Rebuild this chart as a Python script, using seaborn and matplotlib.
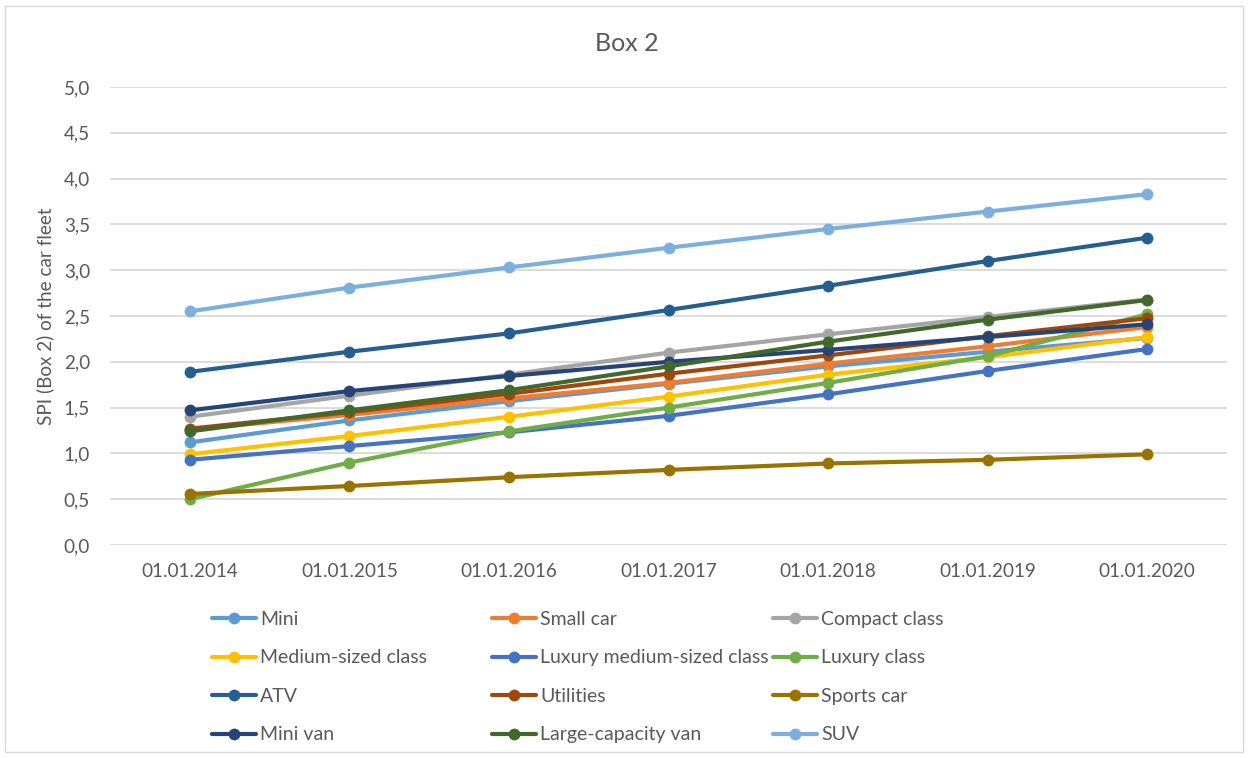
import matplotlib
matplotlib.use("Agg")
import matplotlib.pyplot as plt
from matplotlib.lines import Line2D
from matplotlib.patches import Rectangle
from matplotlib.ticker import FuncFormatter, MultipleLocator
import seaborn as sns
import pandas as pd

# Reference dates (x categories)
dates = ["01.01.2014", "01.01.2015", "01.01.2016", "01.01.2017",
         "01.01.2018", "01.01.2019", "01.01.2020"]

# SPI (Box 2) per vehicle segment
mini = [1.12, 1.36, 1.57, 1.76, 1.95, 2.11, 2.26]
small_car = [1.26, 1.42, 1.60, 1.77, 1.98, 2.17, 2.38]
compact_class = [1.40, 1.63, 1.86, 2.10, 2.30, 2.49, 2.68]
medium_sized_class = [0.99, 1.19, 1.40, 1.62, 1.86, 2.05, 2.27]
luxury_medium_sized_class = [0.93, 1.08, 1.23, 1.41, 1.645, 1.90, 2.14]
luxury_class = [0.50, 0.90, 1.24, 1.50, 1.77, 2.06, 2.52]
atv = [1.89, 2.11, 2.31, 2.565, 2.83, 3.10, 3.355]
utilities = [1.27, 1.45, 1.65, 1.87, 2.07, 2.28, 2.475]
sports_car = [0.557, 0.644, 0.74, 0.82, 0.89, 0.93, 0.99]
mini_van = [1.47, 1.68, 1.845, 2.00, 2.13, 2.27, 2.41]
large_capacity_van = [1.24, 1.47, 1.69, 1.95, 2.22, 2.46, 2.675]
suv = [2.55, 2.81, 3.03, 3.245, 3.45, 3.64, 3.83]

segments = ["Mini", "Small car", "Compact class", "Medium-sized class",
            "Luxury medium-sized class", "Luxury class", "ATV", "Utilities",
            "Sports car", "Mini van", "Large-capacity van", "SUV"]
series = [mini, small_car, compact_class, medium_sized_class,
          luxury_medium_sized_class, luxury_class, atv, utilities,
          sports_car, mini_van, large_capacity_van, suv]

colors = ["#5B9BD5", "#ED7D31", "#A5A5A5", "#FFC000", "#4472C4", "#70AD47",
          "#255E91", "#9E480E", "#997300", "#264478", "#43682B", "#7CAFDD"]
palette = dict(zip(segments, colors))

rows = []
for name, vals in zip(segments, series):
    for d, v in zip(dates, vals):
        rows.append({"Date": d, "Segment": name, "SPI": v})
df = pd.DataFrame(rows)

sns.set_theme(style="white")
plt.rcParams["font.family"] = ["Lato", "DejaVu Sans"]
text_color = "#595959"
tick_size = 13.6

W, H = 1248, 758
fig = plt.figure(figsize=(W / 100, H / 100), dpi=100)
ax = fig.add_axes([110 / W, 1 - 545 / H, (1227 - 110) / W, (545 - 87) / H])

sns.lineplot(data=df, x="Date", y="SPI", hue="Segment", hue_order=segments,
             palette=palette, marker="o", markersize=8.5, markeredgewidth=0,
             linewidth=3.0, sort=False, legend=False, ax=ax)

ax.set_xlim(-0.5, len(dates) - 0.5)
ax.set_ylim(0, 5)
ax.yaxis.set_major_locator(MultipleLocator(0.5))
ax.yaxis.set_major_formatter(FuncFormatter(lambda v, p: f"{v:.1f}".replace(".", ",")))
ax.grid(axis="y", color="#D9D9D9", linewidth=1.3)
ax.grid(axis="x", visible=False)
ax.set_axisbelow(True)
for s in ax.spines.values():
    s.set_visible(False)
ax.tick_params(axis="both", length=0, labelsize=tick_size, labelcolor=text_color)
ax.tick_params(axis="y", pad=14.4)
ax.tick_params(axis="x", pad=13)
ax.set_xlabel("")
ax.set_ylabel("SPI (Box 2) of the car fleet", fontsize=tick_size,
              color=text_color, labelpad=7)

fig.text(627 / W, 1 - 43.5 / H, "Box 2", ha="center", va="center",
         fontsize=18, color=text_color)

# Legend: three fixed columns, filled row by row
col_x = [212, 492, 773]
for c in range(3):
    handles = []
    labels = []
    for r in range(4):
        i = r * 3 + c
        handles.append(Line2D([], [], color=colors[i], linewidth=3.0,
                              marker="o", markersize=8.5, markeredgewidth=0))
        labels.append(segments[i])
    fig.legend(handles, labels, loc="upper left",
               bbox_to_anchor=(col_x[c] / W, 1 - 611 / H),
               frameon=False, fontsize=14, labelcolor=text_color,
               handlelength=2.27, handletextpad=0.2, labelspacing=1.105,
               borderpad=0, borderaxespad=0)

# Chart area border
fig.patches.append(Rectangle((5 / W, 6 / H), (W - 10) / W, (H - 12) / H,
                             transform=fig.transFigure, fill=False,
                             edgecolor="#D9D9D9", linewidth=1.0))

fig.savefig("out.png", dpi=100, facecolor="white")
